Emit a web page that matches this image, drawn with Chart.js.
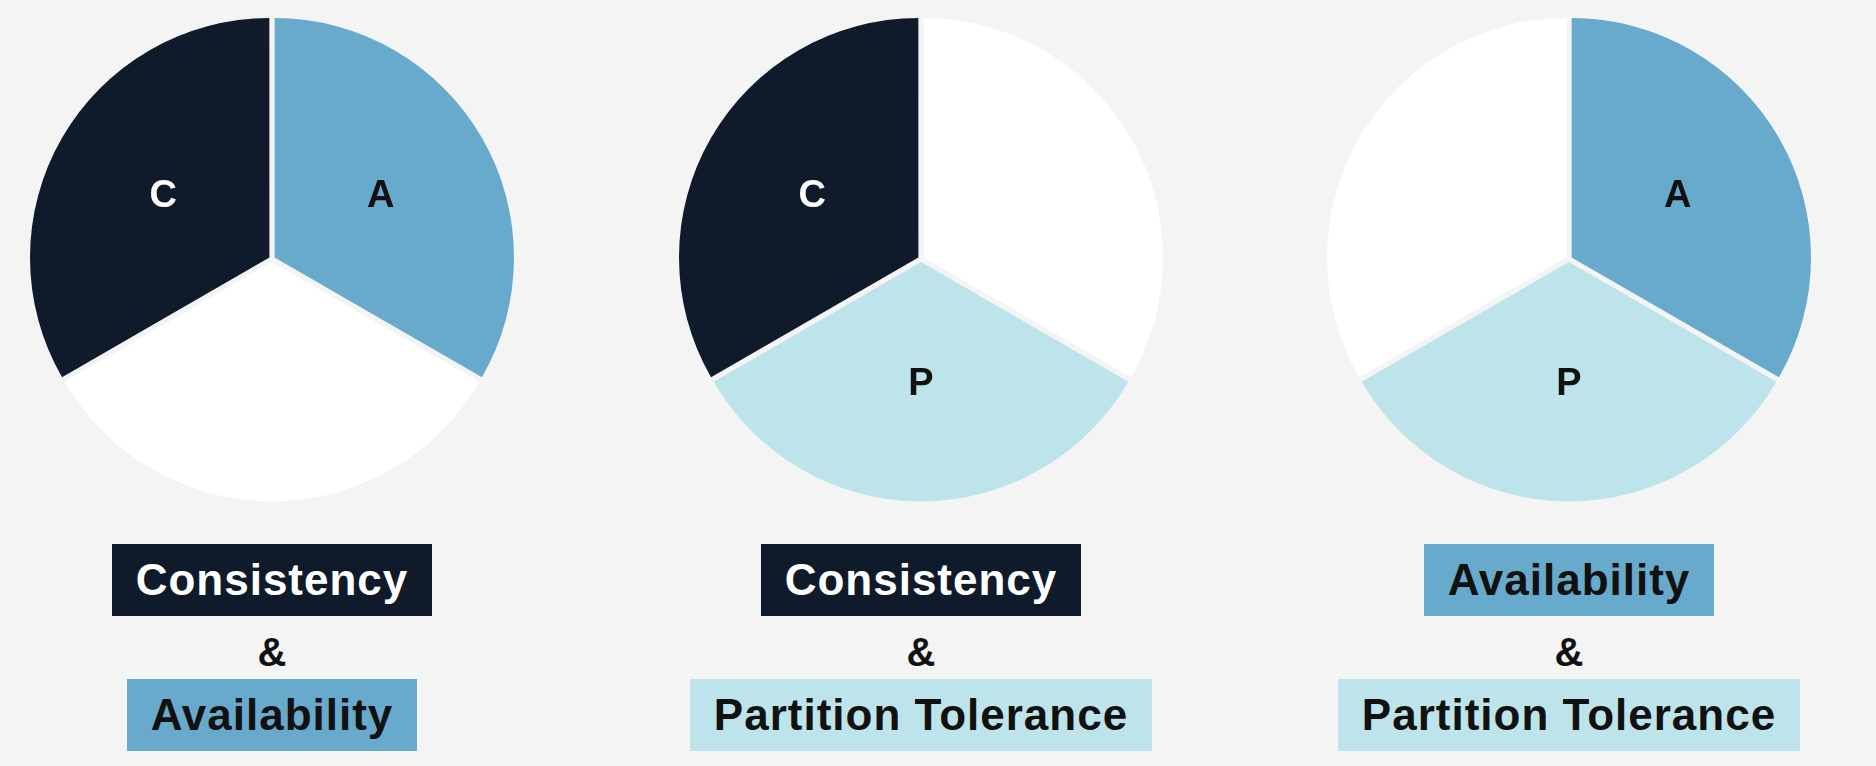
<!DOCTYPE html>
<html>
<head>
<meta charset="UTF-8">
<script src="https://cdn.jsdelivr.net/npm/chart.js"></script>
<style>
  body { margin:0; background:#f4f4f4; width:1876px; height:766px; overflow:hidden; font-family:"Liberation Sans", Arial, sans-serif; }
  .col { position:absolute; top:0; width:620px; }
  .pie { position:absolute; width:490px; height:490px; }
  .cap { position:absolute; left:0; width:620px; text-align:center; font-weight:bold; font-size:44px; }
  .box { display:inline-block; padding:0 24px; height:72px; line-height:72px; letter-spacing:1px; }
  .amp { position:absolute; top:630px; width:620px; text-align:center; font-weight:bold; font-size:40px; color:#111; }
</style>
</head>
<body>
<script>
  // slice order clockwise from top: A, P, C
  const sliceLabels = ['A', 'P', 'C'];
  const sliceValues = [1, 1, 1];
  const pies = [
    { show: [true, false, true], title1: 'Consistency', title2: 'Availability', c1: 'C', c2: 'A', cx: 272 },
    { show: [false, true, true], title1: 'Consistency', title2: 'Partition Tolerance', c1: 'C', c2: 'P', cx: 921 },
    { show: [true, true, false], title1: 'Availability', title2: 'Partition Tolerance', c1: 'A', c2: 'P', cx: 1569 }
  ];
  const fill = { A: '#68aacc', P: '#bce4ea', C: '#0f1b2a' };
  const ink = { A: '#111', P: '#111', C: '#fff' };

  const labelPlugin = {
    id: 'sliceLabels',
    afterDatasetsDraw(chart) {
      const ctx = chart.ctx;
      const show = chart.options.plugins.sliceLabels.show;
      chart.getDatasetMeta(0).data.forEach((arc, i) => {
        if (!show[i]) return;
        const p = arc.tooltipPosition();
        ctx.save();
        ctx.font = 'bold 38px "Liberation Sans", Arial, sans-serif';
        ctx.fillStyle = ink[sliceLabels[i]];
        ctx.textAlign = 'center';
        ctx.textBaseline = 'middle';
        ctx.fillText(sliceLabels[i], p.x, p.y);
        ctx.restore();
      });
    }
  };

  pies.forEach(cfg => {
    const col = document.createElement('div');
    col.className = 'col';
    col.style.left = (cfg.cx - 310) + 'px';
    col.innerHTML = `
      <div class="pie" style="left:65px; top:14px;"><canvas></canvas></div>
      <div class="cap" style="top:544px;"><span class="box" style="background:${fill[cfg.c1]};color:${ink[cfg.c1]}">${cfg.title1}</span></div>
      <div class="amp">&amp;</div>
      <div class="cap" style="top:679px;"><span class="box" style="background:${fill[cfg.c2]};color:${ink[cfg.c2]}">${cfg.title2}</span></div>`;
    document.body.appendChild(col);
    new Chart(col.querySelector('canvas'), {
      type: 'pie',
      data: {
        labels: sliceLabels,
        datasets: [{
          data: sliceValues,
          backgroundColor: sliceLabels.map((l, i) => cfg.show[i] ? fill[l] : '#ffffff'),
          borderWidth: 0,
          offset: 12
        }]
      },
      options: {
        responsive: true, maintainAspectRatio: false, animation: false,
        plugins: { legend: { display: false }, tooltip: { enabled: false }, sliceLabels: { show: cfg.show } }
      },
      plugins: [labelPlugin]
    });
  });
</script>
</body>
</html>
